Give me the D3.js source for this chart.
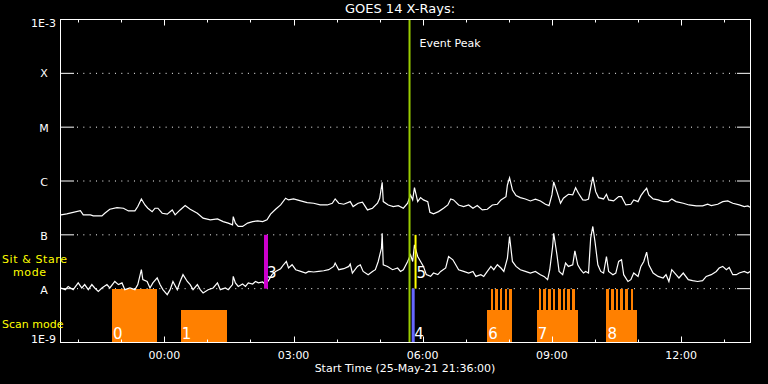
<!DOCTYPE html>
<html>
<head>
<meta charset="utf-8">
<script src="https://d3js.org/d3.v7.min.js"></script>
<style>
  body { margin: 0; background: #000; }
  svg text { font-family: "DejaVu Sans", sans-serif; fill: #fff; }
</style>
</head>
<body>
<svg id="chart" width="768" height="384"></svg>
<script>
// start of the plot and its length (minutes)
var startTime = Date.UTC(2021, 4, 25, 21, 36, 0);
var spanMinutes = 960;

// flux levels on the left axis
var levelValues = [1e-9, 1e-8, 1e-7, 1e-6, 1e-5, 1e-4, 1e-3];
var levelNames = ["1E-9", "A", "B", "C", "M", "X", "1E-3"];

// GOES long channel (minutes after start, W/m2)
var longXray = [[0,2.35e-7],[8,2.45e-7],[27,2.82e-7],[31,2.35e-7],[41,2.35e-7],[45,2.25e-7],[57,2.25e-7],[61,2.52e-7],[68,2.99e-7],[78,3.21e-7],
  [87,3.12e-7],[94,2.78e-7],[103,2.78e-7],[107,3.35e-7],[112,4.64e-7],[117,3.59e-7],[121,3.12e-7],[127,2.70e-7],[131,3.12e-7],[135,3.12e-7],
  [141,2.52e-7],[148,2.42e-7],[155,2.90e-7],[159,2.35e-7],[166,2.90e-7],[173,3.49e-7],[180,2.99e-7],[190,2.52e-7],[198,2.04e-7],[208,1.90e-7],
  [218,1.98e-7],[226,1.76e-7],[233,1.65e-7],[239,1.53e-7],[240,2.18e-7],[243,1.65e-7],[247,1.43e-7],[253,1.43e-7],[260,1.65e-7],[267,1.76e-7],
  [274,1.82e-7],[281,1.76e-7],[287,1.90e-7],[292,2.42e-7],[299,2.99e-7],[306,3.59e-7],[313,4.78e-7],[317,4.45e-7],[324,4.64e-7],[334,4.26e-7],
  [343,3.97e-7],[352,3.86e-7],[361,3.59e-7],[371,3.59e-7],[378,3.86e-7],[382,4.64e-7],[387,3.86e-7],[394,3.70e-7],[403,4.14e-7],[407,3.35e-7],
  [414,3.86e-7],[420,4.03e-7],[427,2.90e-7],[434,3.12e-7],[441,3.86e-7],[444,4.78e-7],[447.5,9.46e-7],[449,4.14e-7],[456,3.59e-7],[463,3.35e-7],
  [470,3.49e-7],[477,3.12e-7],[483,3.86e-7],[487,5.51e-7],[490,4.45e-7],[492.5,7.52e-7],[497,4.14e-7],[501,4.91e-7],[505,4.45e-7],[511,4.14e-7],
  [514,2.63e-7],[519,2.45e-7],[526,2.70e-7],[533,3.12e-7],[539,3.59e-7],[543,4.64e-7],[547,4.45e-7],[554,3.59e-7],[561,3.35e-7],[568,3.59e-7],
  [574,3.12e-7],[580,3.49e-7],[587,2.90e-7],[594,2.99e-7],[601,3.59e-7],[608,3.70e-7],[613,4.45e-7],[620,5.12e-7],[622,8.43e-7],[625,1.15e-6],
  [629,6.81e-7],[634,5.35e-7],[640,4.91e-7],[647,4.64e-7],[654,4.26e-7],[661,4.58e-7],[668,4.26e-7],[675,3.70e-7],[680,3.49e-7],[684,5.51e-7],
  [686.5,9.6e-7],[691,6.34e-7],[696,3.86e-7],[700,4.78e-7],[707,5.67e-7],[713,5.51e-7],[717,7.52e-7],[721,5.92e-7],[727,4.45e-7],[731,4.4e-7],
  [735,4.64e-7],[741,1.19e-6],[745,6.34e-7],[749,4.91e-7],[756,4.64e-7],[760,5.67e-7],[763,4.45e-7],[770,4.26e-7],[777,5.12e-7],[781,5.12e-7],
  [787,3.59e-7],[794,3.70e-7],[798,4.45e-7],[804,4.14e-7],[808,5.35e-7],[812,6.34e-7],[816,7.33e-7],[819,5.51e-7],[825,4.64e-7],[832,4.45e-7],
  [839,4.14e-7],[846,4.14e-7],[851,4.64e-7],[857,4.14e-7],[867,3.86e-7],[875,3.59e-7],[885,3.45e-7],[894,3.45e-7],[901,3.70e-7],[906,3.49e-7],
  [915,3.70e-7],[922,4.14e-7],[929,4.26e-7],[936,3.86e-7],[945,3.59e-7],[952,3.35e-7],[957,3.45e-7],[960,3.26e-7]];

// GOES short channel
var shortXray = [[0,1.03e-8],[6,9.58e-9],[10,1.10e-8],[17,9.58e-9],[24,1.28e-8],[29,1.03e-8],[33,1.19e-8],[38,9.58e-9],[43,1.19e-8],[47,1.03e-8],
  [52,8.91e-9],[57,1.03e-8],[64,1.19e-8],[68,1.03e-8],[75,1.36e-8],[80,1.19e-8],[85,1.28e-8],[89,9.58e-9],[96,1.03e-8],[103,9.58e-9],
  [107,1.19e-8],[112,2.25e-8],[114,1.47e-8],[120,1.36e-8],[124,1.03e-8],[128,1.28e-8],[134,1.58e-8],[138,1.19e-8],[142,9.58e-9],[148,7.74e-9],
  [152,9.58e-9],[156,1.36e-8],[162,9.58e-9],[166,1.36e-8],[170,1.82e-8],[176,1.36e-8],[180,1.19e-8],[184,9.58e-9],[190,1.19e-8],[194,9.58e-9],
  [198,8.32e-9],[205,9.58e-9],[212,1.03e-8],[218,1.28e-8],[222,9.58e-9],[229,1.03e-8],[233,9.58e-9],[239,1.19e-8],[240,1.69e-8],[243,1.28e-8],
  [247,1.10e-8],[253,1.22e-8],[257,1.10e-8],[261,1.28e-8],[267,1.22e-8],[271,1.36e-8],[275,1.28e-8],[281,1.33e-8],[285,1.19e-8],[289,1.41e-8],
  [294,1.82e-8],[299,2.09e-8],[306,2.35e-8],[310,2.78e-8],[314,3.20e-8],[317,2.42e-8],[322,2.78e-8],[327,2.25e-8],[334,2.09e-8],[341,1.95e-8],
  [345,2.09e-8],[352,2.04e-8],[359,2.09e-8],[366,2.15e-8],[373,2.25e-8],[380,2.59e-8],[382,2.99e-8],[387,2.25e-8],[394,2.35e-8],[401,2.59e-8],
  [403,2.87e-8],[406,1.95e-8],[413,2.59e-8],[417,2.78e-8],[421,2.09e-8],[428,1.82e-8],[434,2.09e-8],[438,2.25e-8],[442,3.20e-8],[446.5,5.67e-8],
  [447.5,1.07e-7],[449,2.78e-8],[455,2.59e-8],[462,2.25e-8],[469,2.42e-8],[473,2.09e-8],[477,2.25e-8],[483,3.20e-8],[487,4.26e-8],[490,3.20e-8],
  [492.5,6.53e-8],[497,3.96e-8],[501,3.20e-8],[505,2.59e-8],[509,1.82e-8],[515,1.69e-8],[519,1.95e-8],[525,1.82e-8],[529,2.09e-8],[536,2.42e-8],
  [540,3.96e-8],[546,3.44e-8],[550,2.78e-8],[554,2.25e-8],[561,2.09e-8],[568,1.95e-8],[574,2.09e-8],[578,1.69e-8],[585,1.82e-8],[589,1.69e-8],
  [594,2.09e-8],[599,2.59e-8],[603,2.25e-8],[608,2.78e-8],[613,2.42e-8],[617,2.09e-8],[622,3.70e-8],[625,9.31e-8],[629,3.20e-8],[634,2.59e-8],
  [640,2.25e-8],[647,2.09e-8],[654,1.95e-8],[661,2.09e-8],[668,1.82e-8],[673,1.69e-8],[678,1.47e-8],[681,2.25e-8],[685,6.07e-8],[686.5,1.07e-7],
  [691,4.26e-8],[694,2.09e-8],[699,1.82e-8],[703,2.99e-8],[707,2.59e-8],[713,2.78e-8],[716,5.06e-8],[720,2.78e-8],[724,2.25e-8],[728,1.95e-8],
  [731,2.09e-8],[735,1.95e-8],[738,8.69e-8],[741,1.43e-7],[744,7.52e-8],[748,2.78e-8],[752,2.09e-8],[756,1.95e-8],[760,3.96e-8],[763,2.09e-8],
  [769,1.82e-8],[773,1.95e-8],[777,3.20e-8],[781,3.44e-8],[784,1.82e-8],[790,1.36e-8],[794,1.47e-8],[798,1.95e-8],[804,1.69e-8],[808,2.59e-8],
  [812,3.20e-8],[816,4.78e-8],[819,2.78e-8],[825,1.95e-8],[832,1.69e-8],[839,1.58e-8],[843,1.82e-8],[847,1.36e-8],[851,2.25e-8],[857,1.82e-8],
  [861,1.58e-8],[867,1.95e-8],[874,1.47e-8],[880,1.41e-8],[887,1.36e-8],[894,1.41e-8],[899,1.69e-8],[906,1.82e-8],[913,2.09e-8],[917,2.42e-8],
  [922,2.59e-8],[927,2.25e-8],[931,2.48e-8],[936,1.82e-8],[941,1.82e-8],[945,1.95e-8],[952,2.09e-8],[957,1.95e-8],[960,2.09e-8]];

// scan mode blocks
var scanIds = ["0", "1", "6", "7", "8"];
var scanStart = [71, 167, 594, 663, 760];
var scanEnd = [133.5, 231, 629, 720, 802];
var scanTop = [1e-8, 4.1e-9, 4.1e-9, 4.1e-9, 4.1e-9];

// short sit & stare pointings inside the scan blocks
var stareStart = [598.6, 605, 611.4, 618, 624.5,
  665.6, 672.1, 678.5, 685.1, 692.5, 699.1, 705.6, 712.1,
  760, 766.5, 773, 779.5, 786, 793.5];
var stareLength = 3.7;

// observation markers
var markIds = ["3", "4", "5"];
var markTime = [285.6, 490.7, 494];
var markLow = [1e-8, 1e-9, 1e-8];
var markHigh = [1e-7, 1e-8, 1e-7];

var peakTime = 485.6;

function toDate(m) { return new Date(startTime + m * 60000); }

var svg = d3.select("#chart");
svg.append("rect").attr("width", 768).attr("height", 384).attr("fill", "#000");

var x = d3.scaleUtc().domain([toDate(0), toDate(spanMinutes)]).range([61, 750]);
var y = d3.scaleLog().domain([1e-9, 1e-3]).range([342.5, 19.5]);

// dotted grid for flare classes
svg.selectAll(".grid").data(levelValues.slice(1, 6)).enter().append("line")
    .attr("x1", 77).attr("x2", 736)
    .attr("y1", function (d) { return y(d); }).attr("y2", function (d) { return y(d); })
    .attr("stroke", "#fff").attr("stroke-dasharray", "1,5.33");

// long ticks on left and right
levelValues.slice(1, 6).forEach(function (d) {
    svg.append("line").attr("x1", 60).attr("x2", 74).attr("y1", y(d)).attr("y2", y(d)).attr("stroke", "#fff");
    svg.append("line").attr("x1", 737).attr("x2", 750).attr("y1", y(d)).attr("y2", y(d)).attr("stroke", "#fff");
});

// scan mode blocks
var scans = scanIds.map(function (id, i) {
    return { id: id, s: scanStart[i], e: scanEnd[i], top: scanTop[i] };
});
svg.selectAll(".scan").data(scans).enter().append("rect")
    .attr("x", function (d) { return x(toDate(d.s)); })
    .attr("width", function (d) { return x(toDate(d.e)) - x(toDate(d.s)); })
    .attr("y", function (d) { return y(d.top); })
    .attr("height", function (d) { return y(1e-9) - y(d.top); })
    .attr("fill", "#ff8000")
    .attr("shape-rendering", "crispEdges");

svg.selectAll(".stare").data(stareStart).enter().append("rect")
    .attr("x", function (d) { return x(toDate(d)); })
    .attr("width", function (d) { return x(toDate(d + stareLength)) - x(toDate(d)); })
    .attr("y", y(1e-8))
    .attr("height", y(1e-9) - y(1e-8))
    .attr("fill", "#ff8000")
    .attr("shape-rendering", "crispEdges");

svg.selectAll(".scanlab").data(scans).enter().append("text")
    .attr("x", function (d) { return x(toDate(d.s)) + 1; })
    .attr("y", 339)
    .attr("font-size", 15)
    .text(function (d) { return d.id; });

// curves
var line = d3.line()
    .x(function (d) { return x(toDate(d[0])); })
    .y(function (d) { return y(d[1]); });

svg.append("path").datum(longXray).attr("d", line)
    .attr("fill", "none").attr("stroke", "#fff").attr("stroke-width", 1.2);
svg.append("path").datum(shortXray).attr("d", line)
    .attr("fill", "none").attr("stroke", "#fff").attr("stroke-width", 1.2);

// event peak line
svg.append("line")
    .attr("x1", x(toDate(peakTime))).attr("x2", x(toDate(peakTime)))
    .attr("y1", y(1e-3)).attr("y2", y(1e-9))
    .attr("stroke", "#99cc00").attr("stroke-width", 2);
svg.append("text").attr("x", x(toDate(peakTime)) + 10).attr("y", 47)
    .attr("font-size", 11).text("Event Peak");

// markers
var markColors = ["#cc00cc", "#6666ff", "#ffff00"];
var markWidths = [4, 3, 2];
var marks = markIds.map(function (id, i) {
    return { id: id, t: markTime[i], lo: markLow[i], hi: markHigh[i], c: markColors[i], w: markWidths[i] };
});
svg.selectAll(".mark").data(marks).enter().append("line")
    .attr("x1", function (d) { return x(toDate(d.t)); })
    .attr("x2", function (d) { return x(toDate(d.t)); })
    .attr("y1", function (d) { return y(d.lo); })
    .attr("y2", function (d) { return y(d.hi); })
    .attr("stroke", function (d) { return d.c; })
    .attr("stroke-width", function (d) { return d.w; });
svg.selectAll(".marklab").data(marks).enter().append("text")
    .attr("x", function (d) { return x(toDate(d.t)) + 1; })
    .attr("y", function (d) { return d.lo === 1e-9 ? 339 : 278; })
    .attr("font-size", 15)
    .text(function (d) { return d.id; });

// frame
svg.append("rect").attr("x", 60.5).attr("y", 19.5).attr("width", 690).attr("height", 323)
    .attr("fill", "none").attr("stroke", "#fff");

// time ticks top and bottom
var hours = d3.utcHour.range(toDate(0), toDate(spanMinutes));
hours.forEach(function (h) {
    var len = h.getUTCHours() % 3 === 0 ? 6 : 3;
    var xx = Math.round(x(h)) + 0.5;
    svg.append("line").attr("x1", xx).attr("x2", xx).attr("y1", 342.5).attr("y2", 342.5 - len).attr("stroke", "#fff");
    svg.append("line").attr("x1", xx).attr("x2", xx).attr("y1", 19.5).attr("y2", 19.5 + len).attr("stroke", "#fff");
});
var fmt = d3.utcFormat("%H:%M");
svg.selectAll(".xlab").data(hours.filter(function (h) { return h.getUTCHours() % 3 === 0; }))
    .enter().append("text")
    .attr("x", function (d) { return x(d); }).attr("y", 359)
    .attr("text-anchor", "middle").attr("font-size", 11)
    .text(function (d) { return fmt(d); });

// level labels
var labelBase = [343, 294, 240, 186, 132, 77, 27];
levelNames.forEach(function (n, i) {
    var big = n.length > 1;
    svg.append("text")
        .attr("x", big ? 56 : 44).attr("y", labelBase[i])
        .attr("text-anchor", big ? "end" : "middle")
        .attr("font-size", 11).text(n);
});

// titles
svg.append("text").attr("x", 400).attr("y", 13).attr("text-anchor", "middle")
    .attr("font-size", 13).text("GOES 14 X-Rays:");
svg.append("text").attr("x", 405).attr("y", 372).attr("text-anchor", "middle")
    .attr("font-size", 11).text("Start Time (25-May-21 21:36:00)");

// mode labels
svg.append("text").attr("x", 2).attr("y", 263).attr("font-size", 11)
    .attr("letter-spacing", 0.6).style("fill", "#ffff00").text("Sit & Stare");
svg.append("text").attr("x", 13).attr("y", 276).attr("font-size", 11)
    .attr("letter-spacing", 0.6).style("fill", "#ffff00").text("mode");
svg.append("text").attr("x", 2).attr("y", 328).attr("font-size", 11)
    .style("fill", "#ffff00").text("Scan mode");
</script>
</body>
</html>
